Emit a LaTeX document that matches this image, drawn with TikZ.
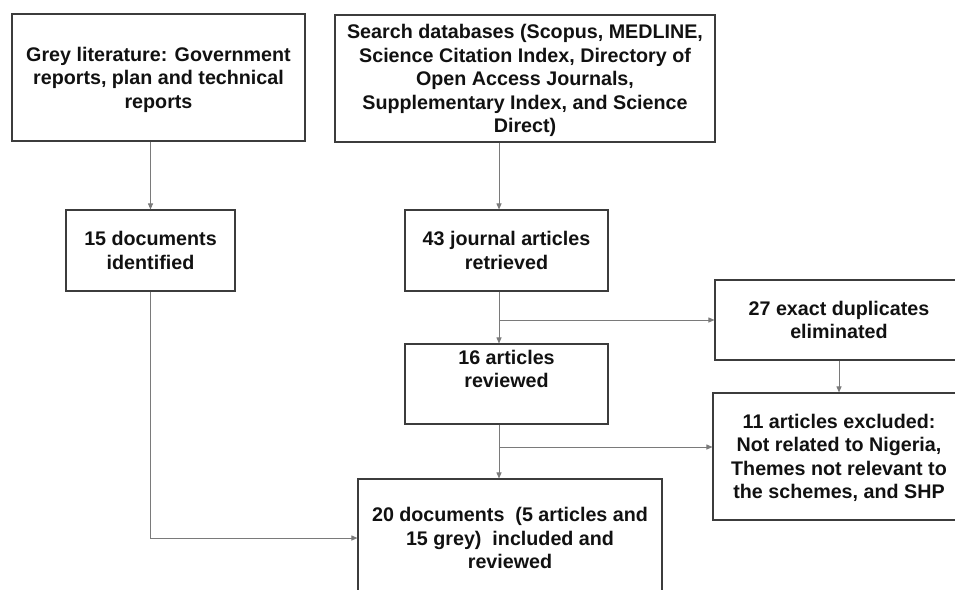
\documentclass[tikz,border=0pt]{standalone}
\usepackage{fontspec}
\setmainfont{Liberation Sans}
\usetikzlibrary{arrows.meta}
\definecolor{boxgray}{HTML}{3C3C3C}
\definecolor{linegray}{HTML}{7A7A7A}
\definecolor{txt}{HTML}{111111}
\begin{document}
\begin{tikzpicture}[x=1pt,y=-1pt,
  every node/.style={font=\bfseries\fontsize{19.7}{23.5}\selectfont, text=txt},
  box/.style={draw=boxgray, line width=1.1pt, align=center, inner sep=0pt},
  lowtext/.style={text depth=0pt},
  conn/.style={draw=linegray, line width=0.9pt, -{Triangle[length=6pt,width=5pt]}}]
\useasboundingbox (0,0) rectangle (955,589);
\clip (0,0) rectangle (955,589);
\node[box, lowtext, minimum width=293pt, minimum height=127pt] (b1) at (158.5,77.5)
  {Grey literature: Government\\reports, plan and technical\\reports};
\node[box, lowtext, minimum width=380pt, minimum height=127pt] (b2) at (525,78.5)
  {Search databases (Scopus, MEDLINE,\\Science Citation Index, Directory of\\Open Access Journals,\\Supplementary Index, and Science\\Direct)};
\node[box, minimum width=169pt, minimum height=81pt] (b4) at (150.5,250.5)
  {15 documents\\identified};
\node[box, lowtext, minimum width=203pt, minimum height=81pt] (b3) at (506.5,250.5)
  {43 journal articles\\retrieved};
\node[box, minimum width=203pt, minimum height=80pt] (b5) at (506.5,384)
  {16 articles\\reviewed\\\strut};
\node[box, minimum width=248pt, minimum height=80pt] (b6) at (839,320)
  {27 exact duplicates\\eliminated};
\node[box, lowtext, minimum width=252pt, minimum height=127pt] (b8) at (839,456.5)
  {11 articles excluded:\\Not related to Nigeria,\\Themes not relevant to\\the schemes, and SHP};
\node[box, minimum width=304pt, minimum height=118pt] (b7) at (510,538)
  {20 documents\ \ (5 articles and\\15 grey)\ \ included and\\reviewed};
\coordinate (cx) at (499,0);
\coordinate (br1) at (499,320);
\coordinate (br2) at (499,447);
\draw[conn] (b1.south -| b4.north) -- (b4.north);
\draw[conn] (b2.south -| cx) -- (b3.north -| cx);
\draw[conn] (b3.south -| cx) -- (b5.north -| cx);
\draw[conn] (br1) -- (br1 -| b6.west);
\draw[conn] (b6.south) -- (b8.north);
\draw[conn] (b5.south -| cx) -- (b7.north -| cx);
\draw[conn] (br2) -- (br2 -| b8.west);
\draw[conn] (b4.south) |- (b7.west);
\end{tikzpicture}
\end{document}
